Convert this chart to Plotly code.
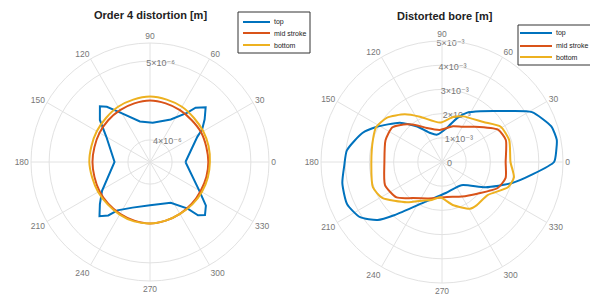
import plotly.graph_objects as go

# ---------------- data ----------------
angle_ticks = [0, 30, 60, 90, 120, 150, 180, 210, 240, 270, 300, 330]
angle_labels = [str(a) for a in angle_ticks]
series_names = ["top", "mid stroke", "bottom"]
colors = ["#0072BD", "#D95319", "#EDB120"]

# Left: Order 4 distortion [m]
left_top_theta = [0, 28, 32, 38, 44.5, 50, 53, 64, 86, 104, 121, 128, 132, 140, 150, 180,
                  211, 220, 227, 232, 236, 249, 270, 297, 309, 312, 316, 322, 330, 360]
left_top_r = [4.17e-6, 4.40e-6, 4.50e-6, 4.60e-6, 4.71e-6, 4.62e-6, 4.50e-6, 4.32e-6, 4.22e-6,
              4.25e-6, 4.45e-6, 4.61e-6, 4.67e-6, 4.55e-6, 4.36e-6, 4.17e-6, 4.43e-6, 4.55e-6,
              4.66e-6, 4.58e-6, 4.46e-6, 4.34e-6, 4.27e-6, 4.30e-6, 4.48e-6, 4.63e-6, 4.69e-6,
              4.62e-6, 4.44e-6, 4.17e-6]
left_ring_theta = [0, 15, 30, 45, 60, 75, 90, 105, 120, 135, 150, 165, 180, 195, 210, 225,
                   240, 255, 270, 285, 300, 315, 330, 345, 360]
left_mid_r = [4.46e-6, 4.46e-6, 4.47e-6, 4.47e-6, 4.48e-6, 4.49e-6, 4.50e-6, 4.49e-6, 4.48e-6,
              4.47e-6, 4.46e-6, 4.45e-6, 4.45e-6, 4.45e-6, 4.46e-6, 4.47e-6, 4.48e-6, 4.49e-6,
              4.50e-6, 4.49e-6, 4.48e-6, 4.47e-6, 4.46e-6, 4.46e-6, 4.46e-6]
left_bottom_r = [4.48e-6, 4.49e-6, 4.50e-6, 4.51e-6, 4.53e-6, 4.54e-6, 4.55e-6, 4.54e-6, 4.53e-6,
                 4.51e-6, 4.50e-6, 4.49e-6, 4.49e-6, 4.48e-6, 4.48e-6, 4.48e-6, 4.49e-6, 4.50e-6,
                 4.50e-6, 4.49e-6, 4.48e-6, 4.48e-6, 4.48e-6, 4.48e-6, 4.48e-6]
left_r_range = [3.72e-6, 5.23e-6]
left_r_ticks = [4e-6, 5e-6]
left_r_labels = ["4×10⁻⁶", "5×10⁻⁶"]

# Right: Distorted bore [m]
right_top_theta = [0, 6, 11, 18, 29, 38, 53, 63, 71, 82, 100, 112, 125, 137, 152, 160, 173,
                   182, 192, 204, 214, 222, 228, 247, 277, 310, 330, 343, 352, 360]
right_top_r = [4.63e-3, 4.75e-3, 4.83e-3, 4.75e-3, 4.25e-3, 3.42e-3, 2.63e-3, 2.29e-3, 1.92e-3,
               1.42e-3, 1.15e-3, 1.29e-3, 1.79e-3, 2.38e-3, 3.08e-3, 3.50e-3, 3.96e-3, 4.04e-3,
               4.21e-3, 4.29e-3, 4.08e-3, 3.58e-3, 2.96e-3, 1.79e-3, 1.29e-3, 1.25e-3, 2.08e-3,
               3.00e-3, 3.75e-3, 4.63e-3]
right_mid_theta = [0, 19, 30, 48, 60, 73, 94, 114, 123, 133, 145, 159, 180, 202, 218, 231, 250,
                   262, 278, 300, 318, 335, 346, 360]
right_mid_r = [2.63e-3, 2.79e-3, 2.67e-3, 1.96e-3, 1.68e-3, 1.54e-3, 1.33e-3, 1.54e-3, 1.79e-3,
               2.13e-3, 2.50e-3, 2.50e-3, 2.38e-3, 2.54e-3, 2.38e-3, 1.92e-3, 1.60e-3, 1.50e-3,
               1.46e-3, 1.65e-3, 1.96e-3, 2.54e-3, 2.71e-3, 2.63e-3]
right_bottom_theta = [0, 18, 31, 44, 65, 76, 93, 116, 128, 141, 152, 162, 180, 200, 211, 229,
                      245, 255, 267, 284, 301, 309, 324, 339, 348, 360]
right_bottom_r = [2.83e-3, 2.92e-3, 2.83e-3, 2.38e-3, 2.08e-3, 1.92e-3, 1.63e-3, 2.08e-3, 2.50e-3,
                  2.92e-3, 3.08e-3, 3.00e-3, 2.92e-3, 3.04e-3, 2.88e-3, 2.21e-3, 1.75e-3, 1.63e-3,
                  1.46e-3, 1.83e-3, 2.25e-3, 2.29e-3, 2.33e-3, 2.92e-3, 3.04e-3, 2.83e-3]
right_r_range = [0, 5e-3]
right_r_ticks = [0, 1e-3, 2e-3, 3e-3, 4e-3, 5e-3]
right_r_labels = ["0", "1×10⁻³", "2×10⁻³", "3×10⁻³", "4×10⁻³", "5×10⁻³"]

# ---------------- layout helpers (page has an 8px body margin) ----------------
W, H = 590, 293
OFF = 8


def px(x):
    return (x - OFF) / W


def py(y):
    return 1 - (y - OFF) / H


FONT = "Liberation Sans, DejaVu Sans, Arial, sans-serif"

# ---------------- figure ----------------
fig = go.Figure()

left_sets = [(left_top_theta, left_top_r, "linear"),
             (left_ring_theta, left_mid_r, "spline"),
             (left_ring_theta, left_bottom_r, "spline")]
for (th, r, shp), name, c in zip(left_sets, series_names, colors):
    fig.add_trace(go.Scatterpolar(theta=th, r=r, mode="lines", name=name, showlegend=False,
                                  line=dict(color=c, width=2, shape=shp),
                                  subplot="polar"))

right_sets = [(right_top_theta, right_top_r), (right_mid_theta, right_mid_r),
              (right_bottom_theta, right_bottom_r)]
for (th, r), name, c in zip(right_sets, series_names, colors):
    fig.add_trace(go.Scatterpolar(theta=th, r=r, mode="lines", name=name, showlegend=False,
                                  line=dict(color=c, width=2, shape="spline", smoothing=0.6),
                                  subplot="polar2"))

grid = "#e2e2e2"
tickfont = dict(family=FONT, size=8.5, color="#777")


def angular():
    return dict(tickmode="array", tickvals=angle_ticks, ticktext=angle_labels,
                direction="counterclockwise", rotation=0, showline=True,
                linecolor=grid, gridcolor=grid, ticks="", tickfont=tickfont)


def radial(rng, tv, tt):
    return dict(range=rng, tickmode="array", tickvals=tv, ticktext=tt, angle=95,
                tickangle=95, showline=False, ticks="", gridcolor=grid,
                tickfont=dict(family=FONT, size=9, color="#777"), layer="below traces")


# manual MATLAB-style legends (box, line samples, labels)
shapes = []
annotations = []
legend_specs = [
    dict(box=(238, 310, 12, 53), line=(243, 270), tx=272, ys=(22, 33, 45)),
    dict(box=(518, 596, 25, 65), line=(520, 552), tx=554, ys=(33, 46, 57)),
]
for spec in legend_specs:
    bx0, bx1, by0, by1 = spec["box"]
    shapes.append(dict(type="rect", xref="paper", yref="paper", x0=px(bx0), x1=px(bx1),
                       y0=py(by1), y1=py(by0), line=dict(color="#333", width=1),
                       fillcolor="white", layer="above"))
    lx0, lx1 = spec["line"]
    for name, c, yy in zip(series_names, colors, spec["ys"]):
        shapes.append(dict(type="line", xref="paper", yref="paper", x0=px(lx0), x1=px(lx1),
                           y0=py(yy), y1=py(yy), line=dict(color=c, width=2), layer="above"))
        annotations.append(dict(text=name, x=px(spec["tx"]), y=py(yy), xref="paper",
                                yref="paper", xanchor="left", yanchor="middle",
                                showarrow=False, font=dict(family=FONT, size=7, color="#222")))

annotations += [
    dict(text="<b>Order 4 distortion [m]</b>", x=px(150), y=py(15), xref="paper", yref="paper",
         xanchor="center", yanchor="middle", showarrow=False,
         font=dict(family=FONT, size=11, color="#222")),
    dict(text="<b>Distorted bore [m]</b>", x=px(445), y=py(16), xref="paper", yref="paper",
         xanchor="center", yanchor="middle", showarrow=False,
         font=dict(family=FONT, size=11, color="#222")),
]


def dom(cx, cy, rad):
    return dict(x=[px(cx - rad), px(cx + rad)], y=[py(cy + rad), py(cy - rad)])


fig.update_layout(
    width=W, height=H,
    margin=dict(l=0, r=0, t=0, b=0),
    paper_bgcolor="white",
    showlegend=False,
    font=dict(family=FONT, color="#333"),
    polar=dict(domain=dom(150, 162, 119), bgcolor="white",
               angularaxis=angular(), radialaxis=radial(left_r_range, left_r_ticks, left_r_labels)),
    polar2=dict(domain=dom(442, 162, 121), bgcolor="white",
                angularaxis=angular(), radialaxis=radial(right_r_range, right_r_ticks, right_r_labels)),
    shapes=shapes,
    annotations=annotations,
)

fig.write_html("out.html")
